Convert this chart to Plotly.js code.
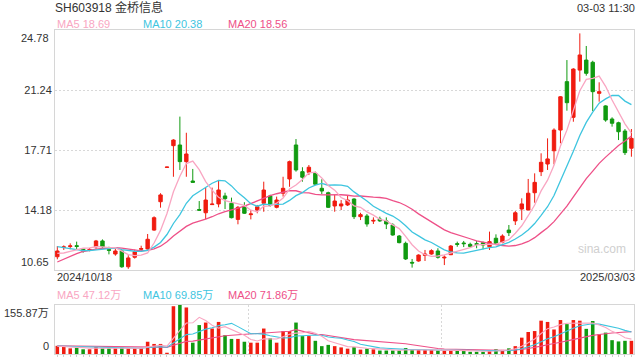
<!DOCTYPE html>
<html><head><meta charset="utf-8">
<script src="https://cdn.plot.ly/plotly-3.0.1.min.js"></script>
<style>html,body{margin:0;padding:0;background:#fff}#chart{width:640px;height:360px}</style>
</head><body><div id="chart"></div>
<script>
const stockTitle = 'SH603918 金桥信息';
const timeLabel = '03-03 11:30';
const startDate = '2024/10/18';
const endDate = '2025/03/03';
const priceMin = 10.65, priceMax = 24.78;
const priceTicks = [14.18, 17.71, 21.24];
const volTicks = [0, 155.87];
const maLabels = ['MA5 18.69', 'MA10 20.38', 'MA20 18.56'];
const volMaLabels = ['MA5 47.12万', 'MA10 69.85万', 'MA20 71.86万'];
const watermark = 'sina.com';

const open = [11.43,11.97,12.03,12.08,11.89,11.83,12.02,12.36,11.85,11.59,
  11.77,10.84,11.40,11.87,11.89,13.00,14.67,16.69,17.97,18.01,
  17.03,15.89,14.21,14.02,14.50,14.54,15.01,14.58,13.63,14.38,
  13.91,14.18,14.58,15.01,14.34,15.17,16.01,18.01,16.44,16.40,
  16.34,15.46,15.20,14.42,14.42,14.48,14.83,13.79,13.83,13.53,
  13.65,13.54,13.30,12.65,12.22,11.10,11.18,11.51,11.59,11.77,
  11.36,11.55,12.20,12.24,12.16,12.20,12.26,12.02,12.52,12.28,
  13.00,13.54,14.24,14.18,15.20,16.44,16.89,17.67,18.89,21.74,
  19.64,22.42,23.01,22.88,21.05,20.31,19.54,19.32,18.83,17.82];
const high = [12.06,12.10,12.22,12.32,11.92,11.94,12.42,12.45,12.02,11.89,
  11.79,11.52,11.85,12.08,12.77,13.81,15.17,16.72,18.35,19.68,
  18.73,16.60,14.71,15.50,15.50,15.95,15.20,14.91,14.42,14.64,
  14.18,14.48,15.85,15.08,14.97,16.14,17.09,18.36,16.70,16.83,
  16.44,15.99,15.26,15.07,14.77,15.01,14.87,14.02,13.95,13.75,
  13.79,13.75,13.40,12.71,12.32,11.30,11.57,11.83,11.87,11.93,
  11.51,12.12,12.32,12.36,12.26,12.36,12.32,12.91,12.75,12.75,
  13.30,14.12,14.87,16.01,16.34,17.52,18.40,18.99,20.89,23.01,
  22.53,24.58,23.84,22.97,21.70,20.35,19.64,19.38,18.95,18.95];
const low = [11.28,11.83,11.87,11.89,11.67,11.75,11.90,11.94,11.57,11.49,
  10.78,10.72,11.32,11.71,11.85,12.96,14.32,16.68,16.14,16.54,
  16.14,15.81,14.15,13.65,14.49,14.34,14.24,13.69,13.34,13.95,
  13.63,13.99,14.08,14.38,14.28,14.97,15.55,16.44,15.85,16.24,
  15.65,15.12,14.30,14.08,14.18,14.42,13.65,13.59,13.20,13.36,
  13.48,13.06,12.67,12.22,11.24,10.79,11.14,11.18,11.55,11.32,
  10.94,11.53,12.02,12.00,11.98,11.93,11.87,11.83,12.12,12.22,
  12.65,13.30,13.59,14.18,14.61,16.18,16.54,16.87,18.11,20.03,
  19.38,21.74,22.09,20.01,20.56,19.38,19.09,18.30,17.42,17.32];
const close = [11.77,12.01,12.07,12.04,11.76,11.86,12.36,12.02,11.81,11.77,
  10.84,11.36,11.73,11.91,12.46,13.73,15.07,16.71,18.30,17.03,
  17.48,15.81,14.17,14.77,14.53,15.36,14.85,13.73,14.34,13.99,
  13.95,14.38,15.36,14.46,14.77,15.46,17.03,16.54,16.11,16.70,
  15.70,15.30,14.34,14.71,14.54,14.77,13.79,13.91,13.36,13.57,
  13.54,13.36,12.71,12.26,11.30,11.06,11.53,11.59,11.79,11.40,
  11.40,12.06,12.16,12.20,12.04,12.16,12.12,12.32,12.22,12.65,
  12.85,14.02,14.54,15.17,15.81,16.99,17.19,18.89,20.85,20.50,
  22.48,23.31,22.23,21.15,21.15,19.48,19.29,18.79,17.56,18.40];
// volume in 万 shares
const volume = [26,23,18,20,15,15,23,18,18,18,
  20,18,18,18,39,32,32,4,152,155.87,
  148,36,92,100,81,102,60,48,48,39,
  36,36,81,50,36,73,73,100,57,57,
  42,25,29,25,21,17,22,14,17,15,
  11,11,11,11,19,13,13,13,13,11,
  11,13,11,11,7,7,7,11,15,13,
  18,25,52,70,73,106,102,78,108,95,
  108,106,80,105,63,68,44,40,42,42];
// estimated sessions before the visible window (needed for the moving averages)
const priorCloses = [8.6,8.7,8.9,9.3,10.2,11.2,11.3,11.0,11.5,11.5,
  12.6,13.0,12.5,12.1,11.85,11.9,11.6,11.5,11.38];
const priorVolumes = [30,34,28,26,31,27,24,26,29,25,27,24,26,23,25,27,24,22,25];

const RED = '#f01c10', GREEN = '#109a10';
const C5 = '#f9a6c2', C10 = '#3ec5df', C20 = '#ee5088';
const FRAME = '#d6d6d6', GRID = '#d8d8d8', TXT = '#333333';
const FONT = "Arial, 'Liberation Sans', 'Noto Sans CJK SC', sans-serif";

function movingAvg(prior, vals, n) {
  const all = prior.concat(vals), off = prior.length;
  return vals.map((_, i) => { let s = 0; for (let k = 0; k < n; k++) s += all[off + i - k]; return s / n; });
}
const idx = close.map((_, i) => i);
const xRange = [-0.36, idx.length - 1 + 0.40];
const span = xRange[1] - xRange[0];
const vGrid = [xRange[0] + span / 3, xRange[0] + 2 * span / 3];
const volColors = close.map((c, i) => c >= open[i] ? RED : GREEN);

const traces = [
  {type: 'candlestick', x: idx, open: open, high: high, low: low, close: close,
   xaxis: 'x', yaxis: 'y', whiskerwidth: 0, hoverinfo: 'skip', showlegend: false,
   increasing: {line: {color: RED, width: 1}, fillcolor: RED},
   decreasing: {line: {color: GREEN, width: 1}, fillcolor: GREEN}},
  {type: 'scatter', mode: 'lines', x: idx, y: movingAvg(priorCloses, close, 20), xaxis: 'x', yaxis: 'y', line: {color: C20, width: 1.3}, hoverinfo: 'skip'},
  {type: 'scatter', mode: 'lines', x: idx, y: movingAvg(priorCloses, close, 10), xaxis: 'x', yaxis: 'y', line: {color: C10, width: 1.3}, hoverinfo: 'skip'},
  {type: 'scatter', mode: 'lines', x: idx, y: movingAvg(priorCloses, close, 5), xaxis: 'x', yaxis: 'y', line: {color: C5, width: 1.3}, hoverinfo: 'skip'},
  {type: 'bar', x: idx, y: volume, xaxis: 'x2', yaxis: 'y2', width: 0.55, marker: {color: volColors, line: {width: 0}}, hoverinfo: 'skip'},
  {type: 'scatter', mode: 'lines', x: idx, y: movingAvg(priorVolumes, volume, 20), xaxis: 'x2', yaxis: 'y2', line: {color: C20, width: 1.1}, hoverinfo: 'skip'},
  {type: 'scatter', mode: 'lines', x: idx, y: movingAvg(priorVolumes, volume, 10), xaxis: 'x2', yaxis: 'y2', line: {color: C10, width: 1.1}, hoverinfo: 'skip'},
  {type: 'scatter', mode: 'lines', x: idx, y: movingAvg(priorVolumes, volume, 5), xaxis: 'x2', yaxis: 'y2', line: {color: C5, width: 1.1}, hoverinfo: 'skip'}
];

// geometry helpers (pixels -> paper)
const W = 640, H = 360, mL = 55, mR = 6, mT = 30, mB = 6;
const pw = W - mL - mR, ph = H - mT - mB;
const px = x => (x - mL) / pw;
const py = y => (H - mB - y) / ph;

const ann = [];
const maX = [55, 140.5, 226];
maLabels.forEach((t, i) => ann.push({text: t, xref: 'paper', yref: 'paper', x: px(maX[i]), y: py(24), xanchor: 'left', yanchor: 'middle', showarrow: false, font: {size: 11, color: [C5, C10, C20][i], family: FONT}}));
volMaLabels.forEach((t, i) => ann.push({text: t, xref: 'paper', yref: 'paper', x: px(maX[i]), y: py(295), xanchor: 'left', yanchor: 'middle', showarrow: false, font: {size: 11, color: [C5, C10, C20][i], family: FONT}}));
ann.push({text: timeLabel, xref: 'paper', yref: 'paper', x: px(637), y: py(8), xanchor: 'right', yanchor: 'middle', showarrow: false, font: {size: 11, color: TXT, family: FONT}});
ann.push({text: startDate, xref: 'paper', yref: 'paper', x: px(55), y: py(277), xanchor: 'left', yanchor: 'middle', showarrow: false, font: {size: 11, color: TXT, family: FONT}});
ann.push({text: endDate, xref: 'paper', yref: 'paper', x: px(637), y: py(277), xanchor: 'right', yanchor: 'middle', showarrow: false, font: {size: 11, color: TXT, family: FONT}});
ann.push({text: watermark, xref: 'paper', yref: 'paper', x: px(602), y: py(249), xanchor: 'center', yanchor: 'middle', showarrow: false, font: {size: 12, color: '#cfcfcf', family: FONT}});
ann.push({text: priceMax.toFixed(2), xref: 'paper', yref: 'y', x: 0, y: priceMax, xanchor: 'right', yanchor: 'top', xshift: -4, showarrow: false, font: {size: 11, color: TXT, family: FONT}});
ann.push({text: priceMin.toFixed(2), xref: 'paper', yref: 'y', x: 0, y: priceMin, xanchor: 'right', yanchor: 'bottom', xshift: -4, showarrow: false, font: {size: 11, color: TXT, family: FONT}});
ann.push({text: volTicks[1].toFixed(2) + '万', xref: 'paper', yref: 'y2', x: 0, y: volTicks[1], xanchor: 'right', yanchor: 'top', xshift: -4, showarrow: false, font: {size: 11, color: TXT, family: FONT}});
ann.push({text: String(volTicks[0]), xref: 'paper', yref: 'y2', x: 0, y: volTicks[0], xanchor: 'right', yanchor: 'bottom', xshift: -4, showarrow: false, font: {size: 11, color: TXT, family: FONT}});

const layout = {
  width: W, height: H, margin: {l: mL, r: mR, t: mT, b: mB},
  paper_bgcolor: '#ffffff', plot_bgcolor: '#ffffff', showlegend: false,
  boxgap: 0.25,
  font: {family: FONT, size: 11, color: TXT},
  title: {text: stockTitle, xref: 'paper', x: 0, xanchor: 'left', yref: 'container', y: 1 - 8 / H, yanchor: 'middle', font: {size: 12, color: TXT, family: FONT}},
  xaxis: {domain: [0, 1], anchor: 'y', range: xRange, showgrid: false, zeroline: false, showticklabels: false, ticks: '',
    showline: true, mirror: true, linecolor: FRAME, linewidth: 1, rangeslider: {visible: false}, fixedrange: true},
  yaxis: {domain: [py(270), 1], anchor: 'x', range: [priceMin, priceMax], tickmode: 'array', tickvals: priceTicks,
    ticktext: priceTicks.map(v => v.toFixed(2)), showgrid: true, gridcolor: GRID, gridwidth: 1, griddash: '2px,2px',
    zeroline: false, showline: true, mirror: true, linecolor: FRAME, ticks: '', tickfont: {size: 11, color: TXT}, fixedrange: true},
  xaxis2: {domain: [0, 1], anchor: 'y2', range: xRange, tickmode: 'array', tickvals: vGrid, showticklabels: false, ticks: '',
    showgrid: true, gridcolor: GRID, griddash: '2px,2px', zeroline: false, showline: true, mirror: true, linecolor: FRAME,
    minor: {ticks: 'outside', ticklen: 2, tickcolor: '#cccccc', dtick: 1, tick0: 0, showgrid: false}, fixedrange: true},
  yaxis2: {domain: [0, py(305)], anchor: 'x2', range: [volTicks[0], volTicks[1]], showticklabels: false, showgrid: false,
    zeroline: false, showline: true, mirror: true, linecolor: FRAME, ticks: '', fixedrange: true},
  annotations: ann
};

Plotly.newPlot('chart', traces, layout, {displayModeBar: false, staticPlot: true});
</script></body></html>
